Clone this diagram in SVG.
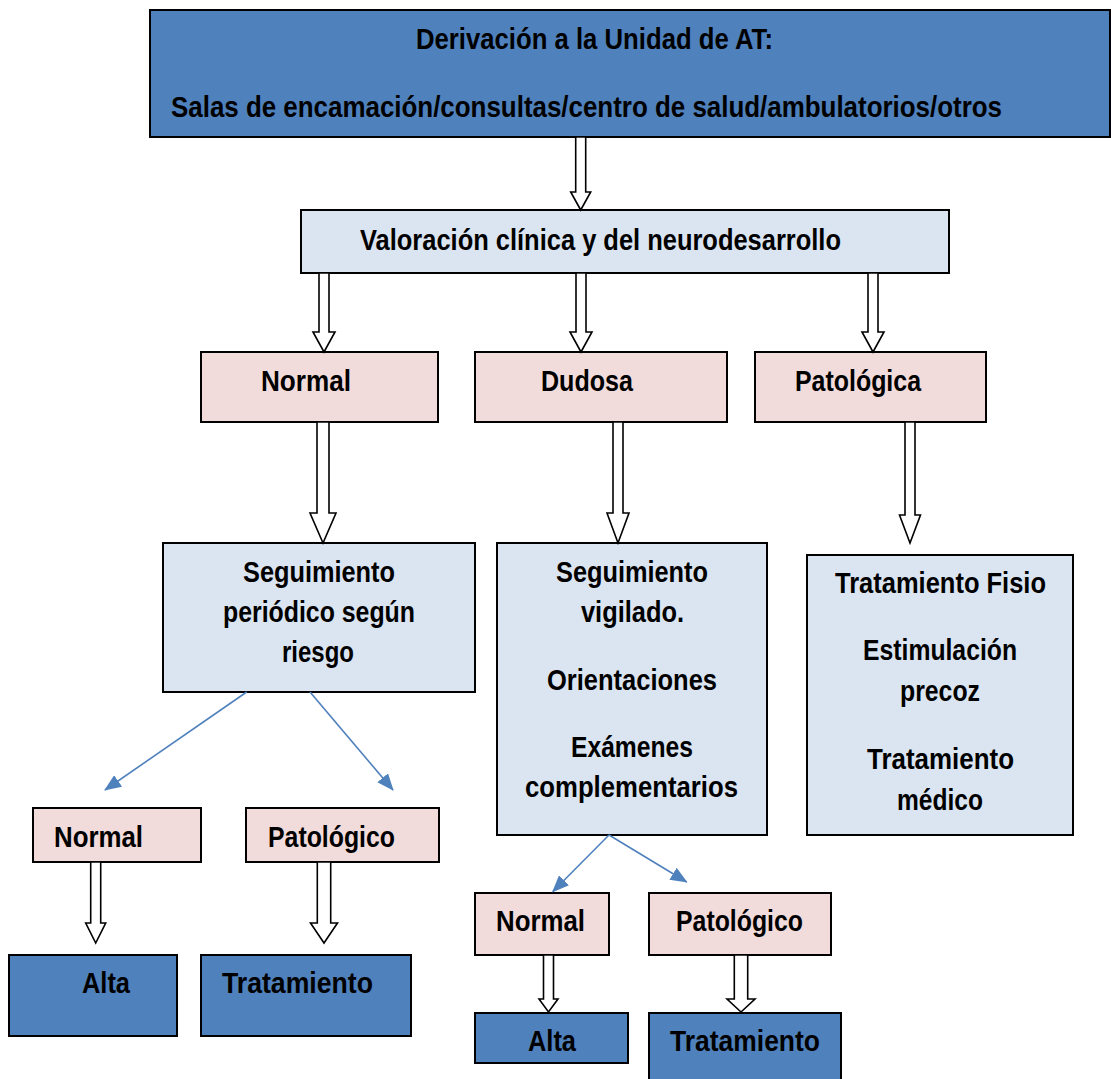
<svg xmlns="http://www.w3.org/2000/svg" width="1111" height="1079" viewBox="0 0 1111 1079">
<style>
.box{stroke:#000;stroke-width:2}
.dark{fill:#4F81BD}
.light{fill:#DBE5F1}
.pink{fill:#F2DCDB}
text{font-family:"Liberation Sans Narrow","Arial Narrow","Liberation Sans",sans-serif;font-weight:bold;font-size:30px;fill:#000}
.hollow{fill:#fff;stroke:#000;stroke-width:1.6;stroke-linejoin:miter}
.thin{stroke:#4F81BD;stroke-width:1.6;fill:none}
</style>
<defs>
<marker id="ah" markerUnits="userSpaceOnUse" markerWidth="18" markerHeight="14" refX="16" refY="7" orient="auto">
<path d="M0,0 L17,7 L0,14 Z" fill="#4F81BD"/>
</marker>
</defs>
<rect width="1111" height="1079" fill="#fff"/>
<g id="n-derivacion">
<rect class="box dark" x="150" y="10" width="960" height="127"/>
<text x="416" y="49" textLength="357" lengthAdjust="spacingAndGlyphs">Derivación a la Unidad de AT:</text>
<text x="171" y="117" textLength="831" lengthAdjust="spacingAndGlyphs">Salas de encamación/consultas/centro de salud/ambulatorios/otros</text>
</g>
<g id="n-valoracion">
<rect class="box light" x="301" y="210" width="648" height="63"/>
<text x="360" y="250" textLength="481" lengthAdjust="spacingAndGlyphs">Valoración clínica y del neurodesarrollo</text>
</g>
<g id="n-normal">
<rect class="box pink" x="201" y="352" width="237" height="70"/>
<text x="261" y="391" textLength="90" lengthAdjust="spacingAndGlyphs">Normal</text>
</g>
<g id="n-dudosa">
<rect class="box pink" x="475" y="352" width="252" height="70"/>
<text x="541" y="391" textLength="92" lengthAdjust="spacingAndGlyphs">Dudosa</text>
</g>
<g id="n-patologica">
<rect class="box pink" x="755" y="352" width="231" height="70"/>
<text x="795" y="391" textLength="126" lengthAdjust="spacingAndGlyphs">Patológica</text>
</g>
<g id="n-seguimiento">
<rect class="box light" x="163" y="543" width="312" height="149"/>
<text x="243" y="582" textLength="152" lengthAdjust="spacingAndGlyphs">Seguimiento</text>
<text x="223" y="622" textLength="192" lengthAdjust="spacingAndGlyphs">periódico según</text>
<text x="282" y="662" textLength="72" lengthAdjust="spacingAndGlyphs">riesgo</text>
</g>
<g id="n-vigilado">
<rect class="box light" x="497" y="543" width="270" height="292"/>
<text x="556" y="582" textLength="152" lengthAdjust="spacingAndGlyphs">Seguimiento</text>
<text x="581" y="622" textLength="103" lengthAdjust="spacingAndGlyphs">vigilado.</text>
<text x="547" y="690" textLength="170" lengthAdjust="spacingAndGlyphs">Orientaciones</text>
<text x="571" y="757" textLength="122" lengthAdjust="spacingAndGlyphs">Exámenes</text>
<text x="525" y="797" textLength="213" lengthAdjust="spacingAndGlyphs">complementarios</text>
</g>
<g id="n-tratfisio">
<rect class="box light" x="807" y="555" width="266" height="280"/>
<text x="835" y="593" textLength="211" lengthAdjust="spacingAndGlyphs">Tratamiento Fisio</text>
<text x="863" y="660" textLength="154" lengthAdjust="spacingAndGlyphs">Estimulación</text>
<text x="900" y="701" textLength="80" lengthAdjust="spacingAndGlyphs">precoz</text>
<text x="867" y="769" textLength="147" lengthAdjust="spacingAndGlyphs">Tratamiento</text>
<text x="897" y="810" textLength="86" lengthAdjust="spacingAndGlyphs">médico</text>
</g>
<g id="n-normal2">
<rect class="box pink" x="33" y="808" width="168" height="54"/>
<text x="54" y="847" textLength="89" lengthAdjust="spacingAndGlyphs">Normal</text>
</g>
<g id="n-patologico2">
<rect class="box pink" x="246" y="808" width="193" height="54"/>
<text x="268" y="847" textLength="127" lengthAdjust="spacingAndGlyphs">Patológico</text>
</g>
<g id="n-alta2">
<rect class="box dark" x="9" y="955" width="168" height="81"/>
<text x="82" y="993" textLength="48" lengthAdjust="spacingAndGlyphs">Alta</text>
</g>
<g id="n-tratamiento2">
<rect class="box dark" x="201" y="955" width="210" height="81"/>
<text x="222" y="993" textLength="151" lengthAdjust="spacingAndGlyphs">Tratamiento</text>
</g>
<g id="n-normal3">
<rect class="box pink" x="475" y="893" width="134" height="62"/>
<text x="496" y="931" textLength="89" lengthAdjust="spacingAndGlyphs">Normal</text>
</g>
<g id="n-patologico3">
<rect class="box pink" x="649" y="893" width="182" height="62"/>
<text x="676" y="931" textLength="127" lengthAdjust="spacingAndGlyphs">Patológico</text>
</g>
<g id="n-alta3">
<rect class="box dark" x="475" y="1013" width="153" height="50"/>
<text x="528" y="1051" textLength="48" lengthAdjust="spacingAndGlyphs">Alta</text>
</g>
<g id="n-tratamiento3">
<rect class="box dark" x="649" y="1013" width="192" height="75"/>
<text x="670" y="1051" textLength="150" lengthAdjust="spacingAndGlyphs">Tratamiento</text>
</g>
<g id="connectors">
<path class="hollow" d="M575.7,137 V192 H570.7 L580.7,210 L590.7,192 H585.7 V137 Z"/>
<path class="hollow" d="M319,273 V332 H313 L324,352 L335,332 H329 V273 Z"/>
<path class="hollow" d="M576,273 V332 H570 L581,352 L592,332 H586 V273 Z"/>
<path class="hollow" d="M868,273 V332 H862 L873,352 L884,332 H878 V273 Z"/>
<path class="hollow" d="M317,422 V513 H310 L323,543 L336,513 H329 V422 Z"/>
<path class="hollow" d="M613,422 V513 H607 L618,543 L629,513 H623 V422 Z"/>
<path class="hollow" d="M905,422 V515 H899.5 L910,543 L920.5,515 H915 V422 Z"/>
<path class="hollow" d="M90.7,862 V923 H85.7 L95.7,943 L105.7,923 H100.7 V862 Z"/>
<path class="hollow" d="M317.3,862 V923 H310.5 L324,943 L337.5,923 H330.7 V862 Z"/>
<path class="hollow" d="M543.5,955 V999 H539 L548.5,1012 L558,999 H553.5 V955 Z"/>
<path class="hollow" d="M734.3,955 V999 H727 L741,1012 L755,999 H747.7 V955 Z"/>
<line class="thin" x1="246.7" y1="692" x2="105" y2="790" marker-end="url(#ah)"/>
<line class="thin" x1="310" y1="692" x2="393" y2="790" marker-end="url(#ah)"/>
<line class="thin" x1="609" y1="835" x2="552.7" y2="891.7" marker-end="url(#ah)"/>
<line class="thin" x1="609" y1="835" x2="686.7" y2="882" marker-end="url(#ah)"/>
</g>
</svg>
